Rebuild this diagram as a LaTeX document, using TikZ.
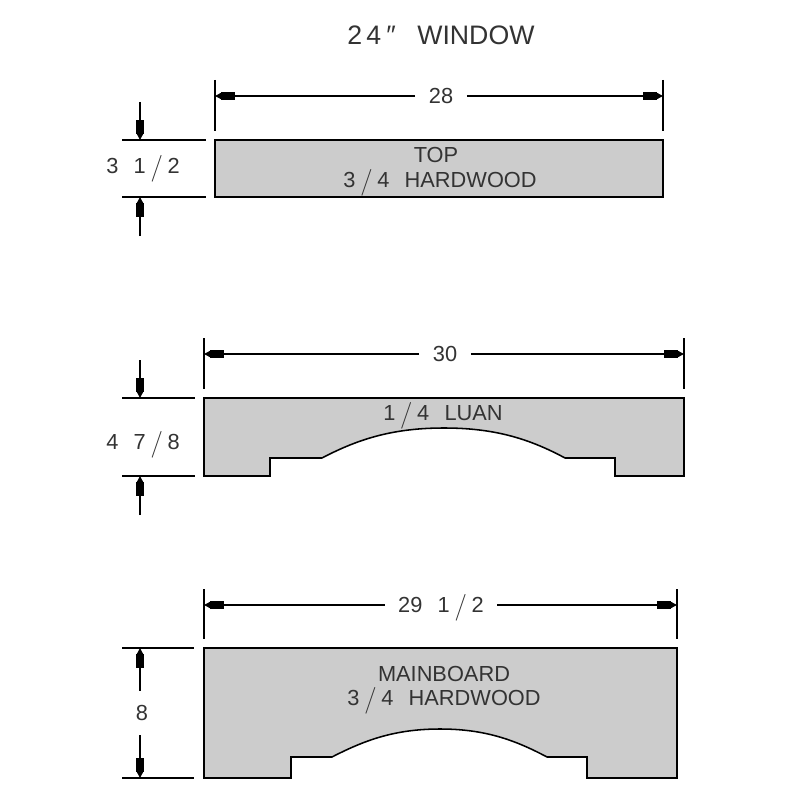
\documentclass[tikz,border=0pt]{standalone}
\usepackage{fontspec}
\setmainfont{Liberation Sans}
\newfontfamily\slashfont{Latin Modern Roman}
\usetikzlibrary{arrows.meta}
\tikzset{
  part/.style={draw=black,fill=black!20,line width=1.1pt,line join=miter},
  extline/.style={line width=1pt},
  dimline/.style={line width=1pt,-{Rectangle[length=9.5pt,width=5pt,sep=0pt]Triangle[length=4.5pt,width=4.5pt]}},
  lab/.style={font=\fontsize{15.5}{17}\selectfont,text=black!80,inner sep=0pt},
  dimlab/.style={lab,fill=white,inner xsep=9.5pt,inner ysep=2pt}
}
\newcommand{\gap}{\hspace{0.7em}}
\newcommand{\frc}{\hspace{3.4pt}\smash{\raisebox{-1.2pt}{\slashfont\fontsize{19}{19}\selectfont/}}\hspace{3.4pt}}
\begin{document}
\begin{tikzpicture}[x=0.025cm,y=-0.025cm]
\useasboundingbox (0,0) rectangle (798,800);
\node[lab,font=\fontsize{19}{21}\selectfont] (title) at (441,35) {2\hspace{0.15em}4\hspace{0.2em}\char"2033\gap\hspace{0.1em}WINDOW};
% top board
\draw[part] (215,140) rectangle (663,197);
\coordinate (topL) at (215,96);
\coordinate (topR) at (663,96);
\coordinate (topU) at (140,140);
\coordinate (topD) at (140,197);
\coordinate (topUf) at (140,102);
\coordinate (topDf) at (140,236);
\draw[extline] (215,80)--(215,131);
\draw[extline] (663,80)--(663,131);
\draw[extline] (122,140)--(206,140);
\draw[extline] (122,197)--(206,197);
\node[dimlab] (topW) at (441,96) {28};
\draw[dimline] (topW)--(topL);
\draw[dimline] (topW)--(topR);
\draw[dimline] (topUf)--(topU);
\draw[dimline] (topDf)--(topD);
\node[lab] (topH) at (143,166) {3\gap 1\frc 2};
\node[lab] (topA) at (436,155) {TOP};
\node[lab] (topB) at (440,180) {3\frc 4\gap HARDWOOD};
% luan
\draw[part] (204,398)--(684,398)--(684,476)--(615,476)--(615,458)--(565,458)
  .. controls (528,438) and (493,428) .. (444,428)
  .. controls (395,428) and (360,438) .. (322,458)
  --(270,458)--(270,476)--(204,476)--cycle;
\coordinate (luanL) at (204,354);
\coordinate (luanR) at (684,354);
\coordinate (luanU) at (140,398);
\coordinate (luanD) at (140,476);
\coordinate (luanUf) at (140,360);
\coordinate (luanDf) at (140,515);
\draw[extline] (204,338)--(204,389);
\draw[extline] (684,338)--(684,389);
\draw[extline] (122,398)--(195,398);
\draw[extline] (122,476)--(195,476);
\node[dimlab] (luanW) at (445,354) {30};
\draw[dimline] (luanW)--(luanL);
\draw[dimline] (luanW)--(luanR);
\draw[dimline] (luanUf)--(luanU);
\draw[dimline] (luanDf)--(luanD);
\node[lab] (luanH) at (143,442) {4\gap 7\frc 8};
\node[lab] (luanA) at (443,413) {1\frc 4\gap LUAN};
% mainboard
\draw[part] (204,648)--(677,648)--(677,778)--(587,778)--(587,757)--(547,757)
  .. controls (515,740) and (485,729) .. (440,729)
  .. controls (395,729) and (365,740) .. (332,757)
  --(291,757)--(291,778)--(204,778)--cycle;
\coordinate (mainL) at (204,605);
\coordinate (mainR) at (677,605);
\coordinate (mainU) at (140,648);
\coordinate (mainD) at (140,778);
\draw[extline] (204,589)--(204,639);
\draw[extline] (677,589)--(677,639);
\draw[extline] (122,648)--(194,648);
\draw[extline] (122,778)--(194,778);
\node[dimlab] (mainW) at (441,605) {29\gap 1\frc 2};
\draw[dimline] (mainW)--(mainL);
\draw[dimline] (mainW)--(mainR);
\node[lab,inner ysep=10pt] (mainH) at (140,713) {\hspace{2.8pt}8};
\draw[dimline] (mainH)--(mainU);
\draw[dimline] (mainH)--(mainD);
\node[lab] (mainA) at (444,674) {MAINBOARD};
\node[lab] (mainB) at (444,698) {3\frc 4\gap HARDWOOD};
\end{tikzpicture}
\end{document}
